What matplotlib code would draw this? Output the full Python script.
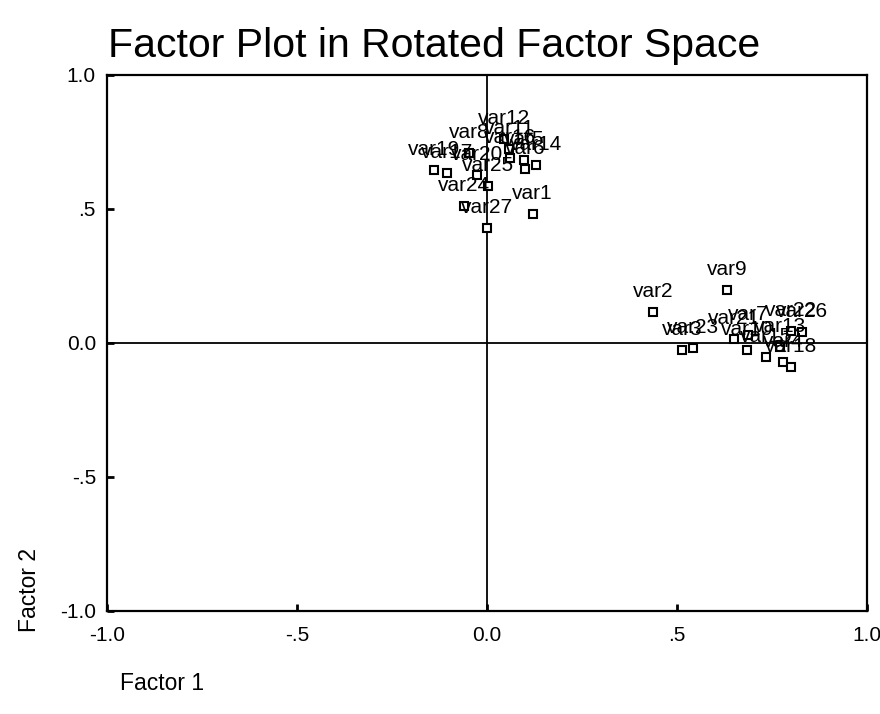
import matplotlib
matplotlib.use('Agg')
import matplotlib.pyplot as plt

plt.rcParams['font.family'] = ['Liberation Sans', 'DejaVu Sans']

# rotated loadings
var_names = [
    'var1', 'var5', 'var6', 'var8', 'var11', 'var12', 'var14', 'var16',
    'var17', 'var19', 'var20', 'var24', 'var25', 'var27',
    'var2', 'var9', 'var3', 'var23', 'var7', 'var21', 'var10', 'var15',
    'var22', 'var26', 'var4', 'var13', 'var18',
]
factor1 = [
    0.12, 0.097, 0.10, -0.047, 0.058, 0.045, 0.13, 0.06,
    -0.105, -0.14, -0.026, -0.06, 0.003, 0.0,
    0.437, 0.632, 0.513, 0.542, 0.687, 0.65, 0.684, 0.735,
    0.80, 0.83, 0.78, 0.77, 0.80,
]
factor2 = [
    0.48, 0.683, 0.65, 0.71, 0.725, 0.76, 0.665, 0.69,
    0.634, 0.645, 0.627, 0.51, 0.585, 0.43,
    0.116, 0.198, -0.026, -0.019, 0.03, 0.015, -0.026, -0.052,
    0.045, 0.04, -0.07, -0.015, -0.09,
]
tick_vals = [-1.0, -0.5, 0.0, 0.5, 1.0]
tick_text = ['-1.0', '-.5', '0.0', '.5', '1.0']

fig = plt.figure(figsize=(8.8, 7.14), dpi=100)
ax = fig.add_axes((107 / 880, 1 - 611 / 714, 760 / 880, 536 / 714))

ax.axhline(0, color='black', lw=1.3, zorder=1)
ax.axvline(0, color='black', lw=1.3, zorder=1)

ax.plot(factor1, factor2, ls='none', marker='s', ms=5.5, mfc='white',
        mec='black', mew=1.5, zorder=3)
for name, x, y in zip(var_names, factor1, factor2):
    ax.annotate(name, (x, y), xytext=(0, 8), textcoords='offset points',
                ha='center', va='bottom', fontsize=15, zorder=4)

ax.set_xlim(-1, 1)
ax.set_ylim(-1, 1)
ax.set_xticks(tick_vals)
ax.set_xticklabels(tick_text)
ax.set_yticks(tick_vals)
ax.set_yticklabels(tick_text)
ax.tick_params(axis='both', direction='in', length=5, width=2, labelsize=15)
ax.tick_params(axis='x', pad=11)
ax.tick_params(axis='y', pad=8)
for side in ax.spines.values():
    side.set_linewidth(1.6)

fig.text(108 / 880, 1 - 46 / 714, 'Factor Plot in Rotated Factor Space',
         fontsize=29.5, ha='left', va='center')
fig.text(30 / 880, 1 - 590 / 714, 'Factor 2', rotation=90, fontsize=16.5,
         ha='center', va='center')
fig.text(120 / 880, 1 - 683 / 714, 'Factor 1', fontsize=16.5,
         ha='left', va='center')

fig.savefig('out.png', dpi=100)
